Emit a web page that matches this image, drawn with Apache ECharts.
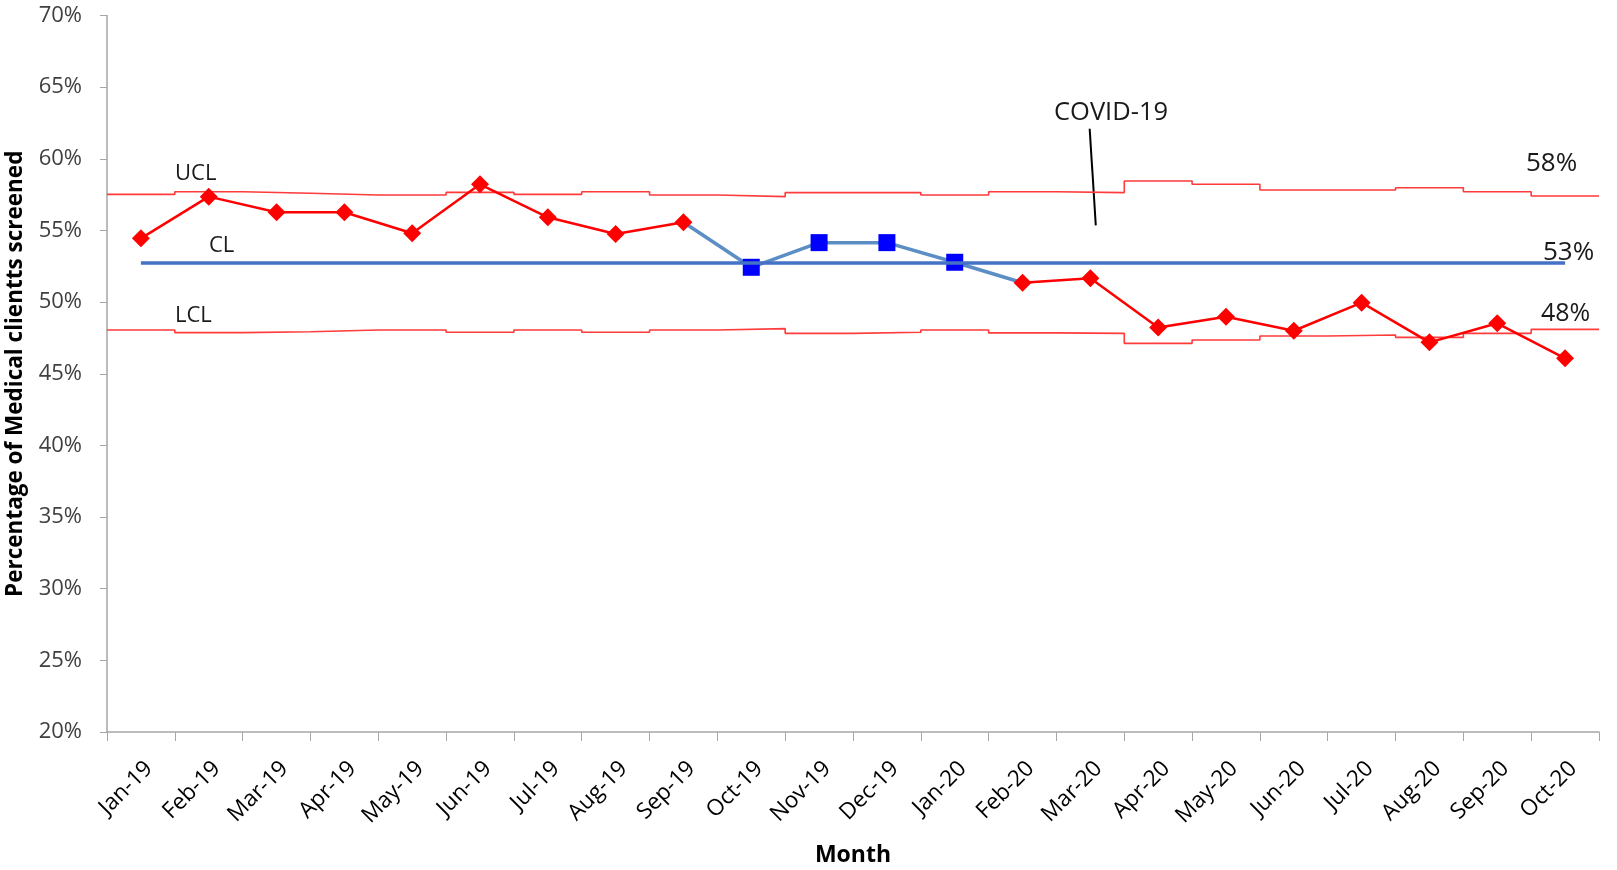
<!DOCTYPE html>
<html>
<head>
<meta charset="utf-8">
<script src="https://cdn.jsdelivr.net/npm/echarts@6/dist/echarts.min.js"></script>
<style>
html,body{margin:0;padding:0;background:#fff;}
#chart{width:1617px;height:870px;}
</style>
</head>
<body>
<div id="chart"></div>
<script>
const categories = ['Jan-19','Feb-19','Mar-19','Apr-19','May-19','Jun-19','Jul-19','Aug-19','Sep-19','Oct-19','Nov-19','Dec-19',
  'Jan-20','Feb-20','Mar-20','Apr-20','May-20','Jun-20','Jul-20','Aug-20','Sep-20','Oct-20'];
const screened = [54.45,57.36,56.27,56.27,54.8,58.22,55.92,54.75,55.57,52.43,54.15,54.15,52.78,51.35,51.66,48.22,48.98,48.0,49.96,47.19,48.52,46.08];
const ucl = [57.52,57.7,57.6,57.47,57.47,57.66,57.52,57.7,57.47,57.36,57.64,57.64,57.47,57.7,57.64,58.45,58.22,57.82,57.82,57.98,57.7,57.4];
const lcl = [48.05,47.87,47.93,48.05,48.05,47.9,48.05,47.9,48.05,48.15,47.82,47.9,48.05,47.85,47.82,47.12,47.35,47.63,47.7,47.54,47.82,48.1];
const cl = 52.73;
const runStart = 9, runEnd = 12; // Oct-19 .. Jan-20 highlighted run
const yTicks = [20,25,30,35,40,45,50,55,60,65,70];
const covidLine = [[14.49, 62.1],[14.58, 55.35]];

const chart = echarts.init(document.getElementById('chart'));

const redData = screened.map((v,i)=> (i>=runStart && i<=runEnd) ? null : v);
const blueData = screened.map((v,i)=> {
  if (i>=runStart-1 && i<=runEnd+1) {
    const inRun = i>=runStart && i<=runEnd;
    return {value: v, symbol: inRun ? 'rect' : 'none'};
  }
  return null;
});
// each monthly limit spans its whole category band
const stepData = arr => {
  const out = [];
  arr.forEach((v,i)=>{ out.push([i,v]); out.push([i+1,v]); });
  return out;
};

const axisFontColor = '#404040';
chart.setOption({
  animation:false,
  grid:{left:107,right:18,top:15.5,bottom:138,outerBoundsMode:'none',containLabel:false},
  xAxis:[{
    type:'category', data:categories, boundaryGap:true,
    axisLine:{lineStyle:{color:'#a6a6a6',width:1.5}},
    axisTick:{show:true,length:9,lineStyle:{color:'#a6a6a6'}},
    axisLabel:{rotate:45,fontFamily:'Open Sans',fontSize:22.5,color:'#000',margin:25,interval:0,
      align:'right',verticalAlign:'top'},
    name:'Month', nameLocation:'middle', nameGap:112,
    nameTextStyle:{fontFamily:'Open Sans',fontWeight:'bold',fontSize:23,color:'#000'}
  },{
    type:'value', min:0, max:22, show:false
  }],
  yAxis:{
    type:'value', min:yTicks[0], max:yTicks[yTicks.length-1], interval:5,
    axisLine:{show:true,lineStyle:{color:'#a6a6a6',width:1.5}},
    axisTick:{show:true,length:7,lineStyle:{color:'#a6a6a6'}},
    splitLine:{show:false},
    axisLabel:{formatter:'{value}%',fontFamily:'Open Sans',fontSize:22,color:axisFontColor,margin:25},
    name:'Percentage of Medical clientts screened', nameLocation:'middle', nameGap:80,
    nameTextStyle:{fontFamily:'Open Sans',fontWeight:'bold',fontSize:22.5,color:'#000'}
  },
  series:[
    {type:'line', xAxisIndex:1, data:stepData(ucl), symbol:'none',
     lineStyle:{color:'#ff3b3b',width:1.6}, z:1},
    {type:'line', xAxisIndex:1, data:stepData(lcl), symbol:'none',
     lineStyle:{color:'#ff3b3b',width:1.6}, z:1},
    {type:'line', xAxisIndex:0, data:[], symbol:'none',
     markLine:{silent:true, symbol:['none','none'], label:{show:false},
       lineStyle:{color:'#4472c4',width:3.5,type:'solid'},
       data:[[{coord:[categories[0], cl]},{coord:[categories[categories.length-1], cl]}]]}, z:2},
    {type:'line', xAxisIndex:0, data:blueData, symbolSize:17, showAllSymbol:true,
     itemStyle:{color:'#0000ff'}, lineStyle:{color:'#5b8ec4',width:3.5}, connectNulls:false, z:3},
    {type:'line', xAxisIndex:0, data:redData, symbol:'diamond', symbolSize:18, showAllSymbol:true,
     itemStyle:{color:'#ff0000'}, lineStyle:{color:'#ff0000',width:2.5}, connectNulls:false, z:4}
  ]
});

const p1 = chart.convertToPixel({xAxisIndex:1,yAxisIndex:0}, covidLine[0]);
const p2 = chart.convertToPixel({xAxisIndex:1,yAxisIndex:0}, covidLine[1]);
const txt = (x,y,t,size) => ({type:'text', x:x, y:y, style:{text:t, fill:'#1a1a1a', font:size+'px "Open Sans"', textVerticalAlign:'middle'}});
chart.setOption({graphic:[
  {type:'line', shape:{x1:p1[0],y1:p1[1],x2:p2[0],y2:p2[1]}, style:{stroke:'#000',lineWidth:2}},
  txt(1054,113,'COVID-19',25.5),
  txt(175,173.5,'UCL',22),
  txt(209,245.5,'CL',22),
  txt(175,315.5,'LCL',22),
  txt(1526,163.5,'58%',26),
  txt(1543,252.5,'53%',26),
  txt(1541,313.5,'48%',25)
]});
</script>
</body>
</html>
